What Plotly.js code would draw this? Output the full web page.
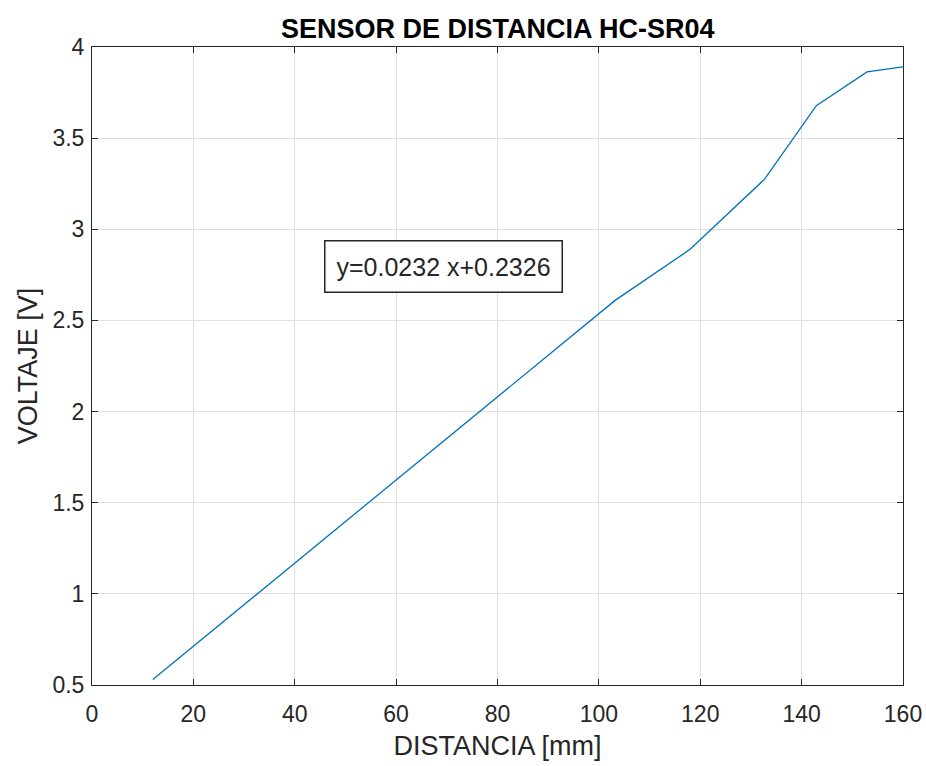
<!DOCTYPE html>
<html>
<head>
<meta charset="utf-8">
<script src="https://cdn.plot.ly/plotly-3.0.1.min.js"></script>
<style>html,body{margin:0;padding:0;background:#fff;}#chart{width:926px;height:766px;}</style>
</head>
<body>
<div id="chart"></div>
<script>
const distancia = [12.0, 103.2, 118.0, 132.7, 142.9, 152.9, 160.0];
const voltaje   = [0.53, 2.61, 2.89, 3.275, 3.678, 3.863, 3.891];
const xTicks = [0, 20, 40, 60, 80, 100, 120, 140, 160];
const yTicks = [0.5, 1, 1.5, 2, 2.5, 3, 3.5, 4];
const titleText = 'SENSOR DE DISTANCIA HC-SR04';
const xLabel = 'DISTANCIA [mm]';
const yLabel = 'VOLTAJE [V]';
const fitText = 'y=0.0232 x+0.2326';

const axisCommon = {
  showgrid: true, gridcolor: '#dfdfdf', gridwidth: 1,
  zeroline: false, showline: true, linecolor: '#262626', linewidth: 1,
  mirror: 'ticks', ticks: 'inside', ticklen: 6, tickcolor: '#262626',
  tickfont: {family: 'Liberation Sans, Arial, sans-serif', size: 23, color: '#262626'}
};

Plotly.newPlot('chart', [{
  x: distancia, y: voltaje, type: 'scatter', mode: 'lines',
  line: {color: '#0072BD', width: 1.3}, hoverinfo: 'none'
}], {
  width: 926, height: 766,
  margin: {l: 92, r: 23, t: 47, b: 81},
  paper_bgcolor: '#ffffff', plot_bgcolor: '#ffffff',
  showlegend: false,
  title: {text: '<b>' + titleText + '</b>', x: 0.5375, xanchor: 'center', y: 0.963, yanchor: 'middle',
          font: {family: 'Liberation Sans, Arial, sans-serif', size: 27, color: '#000'}},
  xaxis: Object.assign({}, axisCommon, {
    range: [0, 160], tickvals: xTicks, ticktext: xTicks.map(String), ticklabelstandoff: 8,
    title: {text: xLabel, standoff: 10, font: {family: 'Liberation Sans, Arial, sans-serif', size: 27, color: '#262626'}}
  }),
  yaxis: Object.assign({}, axisCommon, {
    range: [0.5, 4], tickvals: yTicks, ticktext: yTicks.map(String), ticklabelstandoff: 2,
    title: {text: yLabel, standoff: 6, font: {family: 'Liberation Sans, Arial, sans-serif', size: 27, color: '#262626'}}
  }),
  annotations: [{
    x: 69.4, y: 2.797, xref: 'x', yref: 'y', text: fitText, showarrow: false,
    xanchor: 'center', yanchor: 'middle',
    font: {family: 'Liberation Sans, Arial, sans-serif', size: 25, color: '#262626'},
    bgcolor: '#ffffff', bordercolor: '#262626', borderwidth: 1.5, borderpad: 11
  }]
}, {staticPlot: true});
</script>
</body>
</html>
